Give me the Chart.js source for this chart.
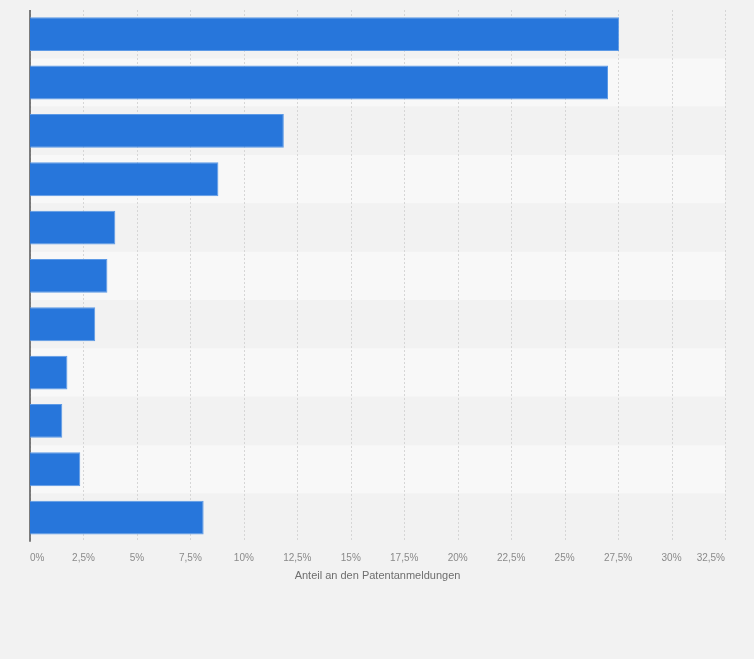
<!DOCTYPE html>
<html>
<head>
<meta charset="utf-8">
<script src="https://cdn.jsdelivr.net/npm/chart.js@4"></script>
<style>
html,body{margin:0;padding:0;background:#f2f2f2;}
#wrap{width:754px;height:659px;}
</style>
</head>
<body>
<div id="wrap"><canvas id="chart"></canvas></div>
<script>
// Daten (Kategorienamen sind im Bild nicht zu sehen)
const categories = ["Kategorie 1","Kategorie 2","Kategorie 3","Kategorie 4","Kategorie 5","Kategorie 6","Kategorie 7","Kategorie 8","Kategorie 9","Kategorie 10","Kategorie 11"];
const shares = [27.55, 27.03, 11.87, 8.81, 3.99, 3.62, 3.05, 1.75, 1.51, 2.35, 8.12];
const xTicks = [0, 2.5, 5, 7.5, 10, 12.5, 15, 17.5, 20, 22.5, 25, 27.5, 30, 32.5];
const axisTitle = "Anteil an den Patentanmeldungen";

// abwechselnde Zeilenhintergründe
const bandPlugin = {
  id: "bands",
  beforeDatasetsDraw(chart){
    const ctx = chart.ctx;
    const y = chart.scales.y;
    const area = chart.chartArea;
    const step = y.height / categories.length;
    ctx.save();
    categories.forEach((c,i)=>{
      const mid = y.getPixelForValue(i);
      ctx.fillStyle = (i % 2 === 0) ? "#f2f2f2" : "#f8f8f8";
      ctx.fillRect(area.left, mid - step/2, area.right - area.left, step);
    });
    ctx.restore();
  }
};

// Gitterlinien und Achsenlinie über den Bändern
const gridPlugin = {
  id: "gridOver",
  beforeDatasetsDraw(chart){
    const ctx = chart.ctx;
    const x = chart.scales.x;
    const area = chart.chartArea;
    ctx.save();
    ctx.strokeStyle = "#d6d6d6";
    ctx.lineWidth = 1;
    ctx.setLineDash([2,2]);
    xTicks.forEach(v=>{
      const px = Math.round(x.getPixelForValue(v)) + 0.5;
      ctx.beginPath();
      ctx.moveTo(px, area.top);
      ctx.lineTo(px, area.bottom);
      ctx.stroke();
    });
    ctx.setLineDash([]);
    ctx.strokeStyle = "#555555";
    ctx.lineWidth = 1.5;
    ctx.beginPath();
    ctx.moveTo(area.left, area.top);
    ctx.lineTo(area.left, area.bottom);
    ctx.stroke();
    ctx.restore();
  }
};

new Chart(document.getElementById("chart"),{
  type:"bar",
  data:{
    labels:categories,
    datasets:[{
      data:shares,
      backgroundColor:"#2776db",
      borderColor:"#5d9ae6",
      borderWidth:1,
      barPercentage:0.7,
      categoryPercentage:1
    }]
  },
  options:{
    indexAxis:"y",
    responsive:true,
    maintainAspectRatio:false,
    animation:false,
    layout:{padding:{left:30,right:29,top:10,bottom:76}},
    plugins:{
      legend:{display:false},
      tooltip:{enabled:false}
    },
    scales:{
      x:{
        min:0,
        max:32.5,
        afterBuildTicks(axis){ axis.ticks = xTicks.map(v=>({value:v})); },
        grid:{display:false},
        border:{display:false},
        ticks:{
          align:"inner",
          padding:2,
          maxRotation:0,
          autoSkip:false,
          color:"#8a8a8a",
          font:{family:"Liberation Sans, Arial, sans-serif",size:10},
          callback:(v)=>String(v).replace(".",",")+"%"
        },
        title:{
          display:true,
          text:axisTitle,
          color:"#6e6e6e",
          padding:{top:4,bottom:0},
          font:{family:"Liberation Sans, Arial, sans-serif",size:11}
        }
      },
      y:{
        display:false
      }
    }
  },
  plugins:[bandPlugin,gridPlugin]
});
</script>
</body>
</html>
